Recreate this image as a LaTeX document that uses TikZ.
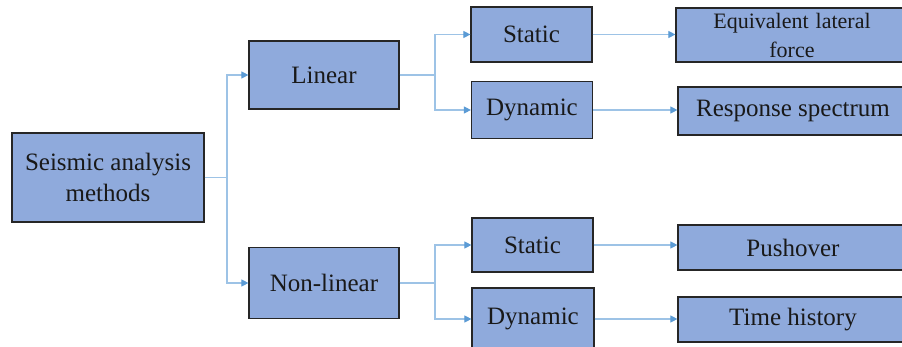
\documentclass[tikz,border=0pt]{standalone}
\usepackage{fontspec}
\setmainfont{Liberation Serif}
\usetikzlibrary{arrows.meta}
\definecolor{boxfill}{HTML}{8FAADC}
\definecolor{boxline}{HTML}{262626}
\definecolor{conn}{HTML}{9DC3E6}
\definecolor{tipc}{HTML}{5B9BD5}
\tikzset{
  box/.style={draw=boxline, line width=1.2pt, fill=boxfill, inner sep=0pt, align=center,
    font=\fontsize{25}{31}\selectfont, text=black!90},
  smallbox/.style={box, font=\fontsize{22}{29}\selectfont},
  link/.style={draw=conn, line width=1.1pt, -{Triangle[length=7pt,width=7pt,fill=tipc,color=tipc]}},
  plain/.style={draw=conn, line width=1.1pt}
}
\begin{document}
\begin{tikzpicture}[x=1pt,y=-1pt]
\useasboundingbox (0,0) rectangle (902,347);
\clip (0,0) rectangle (902,347);
\fill[white] (0,0) rectangle (902,347);
% nodes
\node[box, minimum width=192pt, minimum height=89pt] (root) at (108,177.5) {Seismic analysis\\methods};
\node[box, minimum width=150pt, minimum height=68pt] (lin) at (324,75) {Linear};
\node[box, minimum width=150pt, minimum height=71pt] (nl) at (324,283) {Non-linear};
\node[box, minimum width=121pt, minimum height=55pt] (s1) at (531.5,34.5) {Static};
\node[box, minimum width=121pt, minimum height=57pt] (d1) at (532,110) {Dynamic};
\node[box, minimum width=121pt, minimum height=54pt] (s2) at (532.5,245) {Static};
\node[box, minimum width=122pt, minimum height=62pt] (d2) at (533,319) {Dynamic};
\node[smallbox, minimum width=232pt, minimum height=54pt] (eq) at (792,35) {Equivalent\hspace{7pt}lateral\\force};
\node[box, minimum width=230pt, minimum height=48pt] (rs) at (793,111) {Response spectrum};
\node[box, minimum width=230pt, minimum height=45pt] (po) at (793,247.5) {Pushover};
\node[box, minimum width=230pt, minimum height=45pt] (th) at (793,319.5) {Time history};
% junctions
\coordinate (j0) at (227,177.5);
\coordinate (j1) at (435,75);
\coordinate (j2) at (435,283);
% connectors
\draw[plain] (root.east) -- (j0);
\draw[link] (j0) |- (lin.west);
\draw[link] (j0) |- (nl.west);
\draw[plain] (lin.east) -- (j1);
\draw[link] (j1) |- (s1.west);
\draw[link] (j1) |- (d1.west);
\draw[plain] (nl.east) -- (j2);
\draw[link] (j2) |- (s2.west);
\draw[link] (j2) |- (d2.west);
\draw[link] (s1.east) -- (s1.east -| eq.west);
\draw[link] (d1.east) -- (d1.east -| rs.west);
\draw[link] (s2.east) -- (s2.east -| po.west);
\draw[link] (d2.east) -- (d2.east -| th.west);
\end{tikzpicture}
\end{document}
